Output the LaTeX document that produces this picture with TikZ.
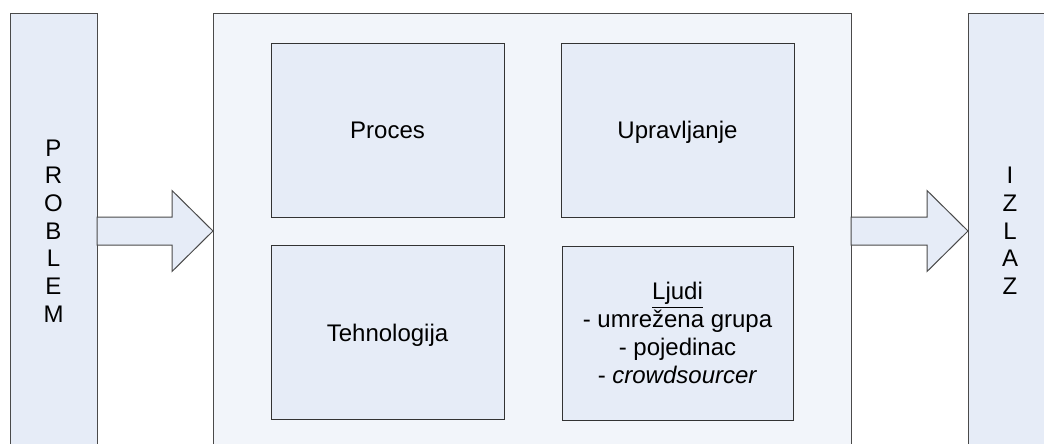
\documentclass[tikz,border=0pt]{standalone}
\usepackage{fontspec}
\setmainfont{Liberation Sans}
\usetikzlibrary{calc}
\definecolor{barfill}{HTML}{E6ECF7}
\definecolor{mainfill}{HTML}{F2F5FA}
\definecolor{boxfill}{HTML}{E6ECF7}
\definecolor{edgegray}{HTML}{4A4A4A}
\tikzset{
  base/.style={draw=edgegray, line width=0.75pt, inner sep=0pt, outer sep=0pt, align=center,
    font=\fontsize{18}{20.8}\selectfont},
  bar/.style={base, fill=barfill},
  mainbox/.style={base, fill=mainfill},
  inbox/.style={base, draw=black!80, fill=boxfill, minimum width=233*0.75pt, minimum height=174*0.75pt},
  oneline/.style={text height=12.9pt, text depth=0pt},
  blockarrow/.style={draw=edgegray, line width=0.75pt, fill=barfill, line join=miter}
}
\begin{document}
\begin{tikzpicture}[x=0.75pt,y=-0.75pt]
\useasboundingbox (0,0) rectangle (1044,443);
\clip (0,0) rectangle (1044,443);
\node[bar, minimum width=87*0.75pt, minimum height=436*0.75pt] (prob) at (53.5,231) {P\\R\\O\\B\\L\\E\\M};
\node[mainbox, minimum width=638*0.75pt, minimum height=436*0.75pt] (main) at (532,231) {};
\node[bar, minimum width=84*0.75pt, minimum height=436*0.75pt] (izlaz) at (1010,231) {I\\Z\\L\\A\\Z};
\node[inbox, oneline] (proces) at (387.5,130) {Proces};
\node[inbox, oneline] (upr) at (677.5,130) {Upravljanje};
\node[inbox, oneline] (teh) at (387.5,332.5) {Tehnologija};
\node[inbox, minimum width=231*0.75pt] (ljudi) at (677.5,333) {\underline{Ljudi}\\- umrežena grupa\\- pojedinac\\- \textit{crowdsourcer}};
\draw[blockarrow] ($(prob.east)+(0,-14)$) -- ($(main.west)+(-41,-14)$) -- ($(main.west)+(-41,-40.5)$) -- (main.west) -- ($(main.west)+(-41,40.5)$) -- ($(main.west)+(-41,14)$) -- ($(prob.east)+(0,14)$) -- cycle;
\draw[blockarrow] ($(main.east)+(0,-14)$) -- ($(izlaz.west)+(-41,-14)$) -- ($(izlaz.west)+(-41,-40.5)$) -- (izlaz.west) -- ($(izlaz.west)+(-41,40.5)$) -- ($(izlaz.west)+(-41,14)$) -- ($(main.east)+(0,14)$) -- cycle;
\end{tikzpicture}
\end{document}
